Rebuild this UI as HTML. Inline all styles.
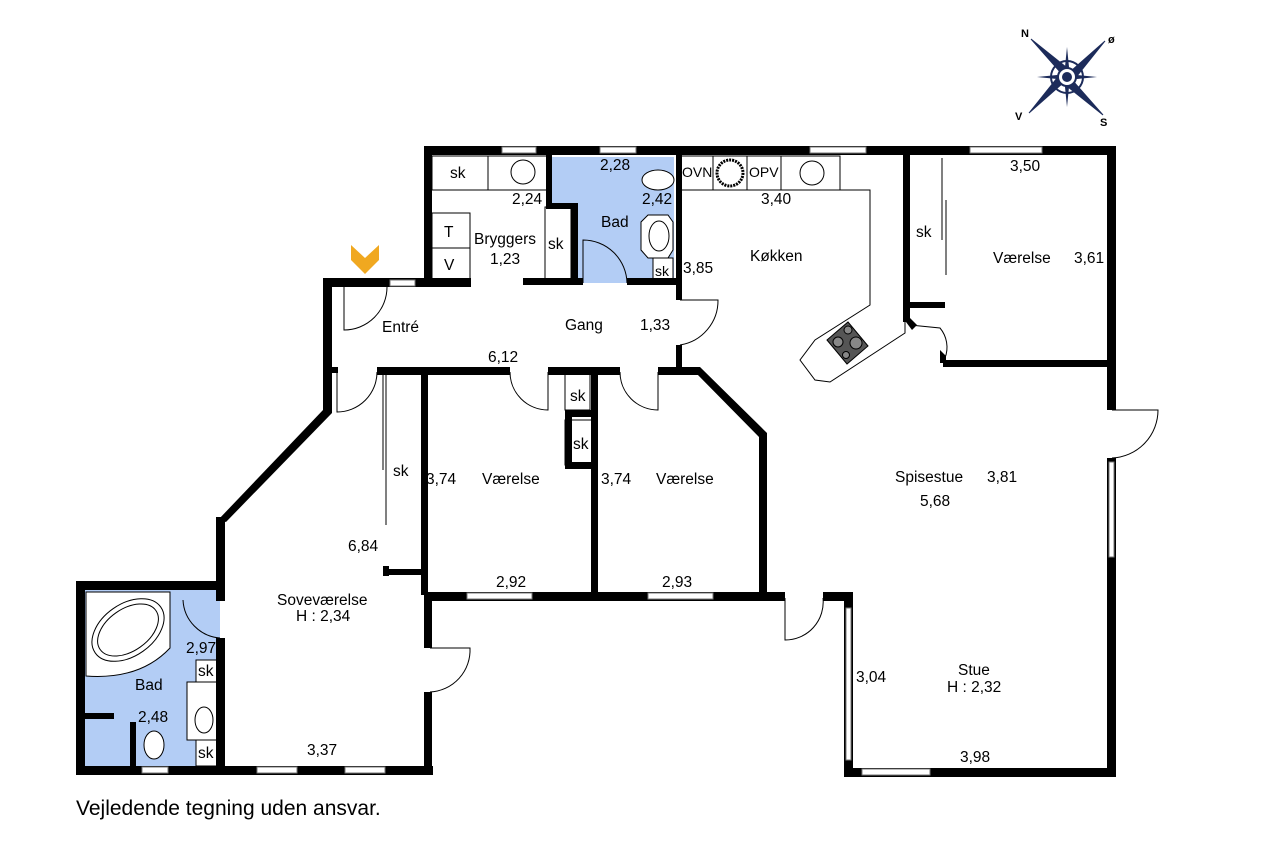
<!DOCTYPE html>
<html><head><meta charset="utf-8"><style>
html,body{margin:0;padding:0;background:#fff;}
svg{display:block}
text{font-family:"Liberation Sans",Arial,sans-serif;font-size:15.5px;fill:#000}
</style></head><body>
<svg width="1280" height="853" viewBox="0 0 1280 853" xmlns="http://www.w3.org/2000/svg">
<rect x="548" y="157" width="126" height="126" fill="#b3cdf5"/>
<rect x="84" y="590" width="136" height="176" fill="#b3cdf5"/>
<g fill="none" stroke="#000" stroke-width="1">
<rect x="432" y="156" width="115" height="34" fill="#fff"/>
<line x1="488" y1="156" x2="488" y2="190"/>
<rect x="432" y="213" width="38" height="70" fill="#fff"/>
<line x1="432" y1="248" x2="470" y2="248"/>
<rect x="545" y="207" width="26" height="76" fill="#fff"/>
<rect x="680" y="156" width="160" height="34" fill="#fff"/>
<line x1="713" y1="156" x2="713" y2="190"/><line x1="747" y1="156" x2="747" y2="190"/><line x1="781" y1="156" x2="781" y2="190"/>
<polyline points="840,190 870,190 870,305 815,340 800,360 815,380 830,382 905,333 905,315"/>
<circle cx="523" cy="172" r="12"/><circle cx="812" cy="173" r="12"/>
<rect x="653" y="258" width="20" height="25" fill="#fff"/>
<ellipse cx="658" cy="180" rx="16" ry="10" fill="#fff"/>
<polygon points="648,215 668,215 673,222 673,250 668,258 648,258 641,250 641,222" fill="#fff"/>
<ellipse cx="659" cy="236" rx="10" ry="15"/>
<path d="M344,287 V330 A43,43 0 0 0 387,287"/>
<path d="M337,372 V412 A40,40 0 0 0 377,372"/>
<path d="M583,283 V240 A44,44 0 0 1 627,283"/>
<path d="M510,372 A38,38 0 0 0 548,410 V372"/>
<path d="M620,372 A38,38 0 0 0 658,410 V372"/>
<path d="M680,300 H718 A45,45 0 0 1 680,345"/>
<path d="M910,325 L940,328 A30,30 0 0 1 945,358"/>
<path d="M1112,410 H1158 A48,48 0 0 1 1112,458"/>
<path d="M785,598 V640 A38,38 0 0 0 823,598"/>
<path d="M430,648 H470 A42,42 0 0 1 430,692"/>
<path d="M183,600 A40,40 0 0 0 220,638"/>
<line x1="383" y1="375" x2="383" y2="470"/><line x1="386" y1="375" x2="386" y2="525"/>
<line x1="942" y1="158" x2="942" y2="240"/><line x1="946" y1="200" x2="946" y2="275"/>
<rect x="565" y="372" width="25" height="38" fill="#fff"/>
<rect x="565" y="420" width="30" height="45" fill="#fff"/>
<path d="M86,592 H170 V648 Q140,680 86,676 Z" fill="#fff"/>
<ellipse cx="128" cy="630" rx="40" ry="26" transform="rotate(-35 128 630)"/>
<ellipse cx="128" cy="630" rx="34" ry="21" transform="rotate(-35 128 630)"/>
<rect x="196" y="660" width="24" height="22" fill="#fff"/><rect x="187" y="682" width="33" height="58" fill="#fff"/><rect x="196" y="740" width="24" height="26" fill="#fff"/>
<ellipse cx="204" cy="720" rx="9" ry="13"/>
<ellipse cx="154" cy="745" rx="10" ry="14" fill="#fff"/>
</g>
<polygon points="827,340 848,322 868,346 847,364" fill="#555" stroke="#000"/>
<circle cx="848" cy="330" r="4" fill="#888" stroke="#000"/><circle cx="856" cy="343" r="6" fill="#888" stroke="#000"/><circle cx="838" cy="342" r="5" fill="#888" stroke="#000"/><circle cx="846" cy="355" r="3.5" fill="#888" stroke="#000"/>
<circle cx="730" cy="173" r="13" fill="none" stroke="#000" stroke-width="3" stroke-dasharray="2 1"/>
<g fill="#000">
<rect x="424" y="146" width="692" height="9"/>
<rect x="1107" y="146" width="9" height="264"/>
<rect x="1107" y="458" width="9" height="318"/>
<rect x="844" y="768" width="272" height="9"/>
<rect x="844" y="592" width="9" height="185"/>
<rect x="823" y="592" width="30" height="9"/>
<rect x="424" y="592" width="361" height="9"/>
<rect x="424" y="146" width="8" height="140"/>
<rect x="323" y="278" width="148" height="9"/>
<rect x="523" y="278" width="60" height="7"/>
<rect x="627" y="278" width="53" height="7"/>
<rect x="546" y="203" width="32" height="6"/><rect x="571" y="203" width="7" height="80"/>
<rect x="546" y="150" width="6" height="58"/>
<rect x="676" y="150" width="6" height="150"/>
<rect x="676" y="345" width="6" height="28"/>
<rect x="323" y="278" width="9" height="135"/>
<polygon points="323,410 332,413 226,522 218,520"/>
<rect x="216" y="517" width="9" height="70"/>
<rect x="76" y="581" width="149" height="9"/>
<rect x="76" y="581" width="9" height="194"/>
<rect x="76" y="766" width="357" height="9"/>
<rect x="216" y="581" width="9" height="20"/><rect x="216" y="638" width="9" height="130"/>
<rect x="424" y="595" width="8" height="53"/><rect x="424" y="692" width="8" height="80"/>
<rect x="332" y="367" width="6" height="6"/>
<rect x="377" y="367" width="133" height="8"/>
<rect x="548" y="367" width="72" height="8"/>
<rect x="658" y="367" width="40" height="8"/>
<polygon points="694,367 700,367 767,433 767,595 759,595 759,437 694,371"/>
<rect x="421" y="370" width="7" height="225"/>
<rect x="591" y="370" width="7" height="225"/>
<rect x="565" y="410" width="30" height="7"/><rect x="565" y="410" width="7" height="58"/><rect x="565" y="462" width="30" height="7"/>
<rect x="383" y="569" width="40" height="6"/><rect x="383" y="566" width="6" height="10"/>
<rect x="903" y="150" width="7" height="172"/>
<rect x="903" y="302" width="42" height="6"/>
<polygon points="903,318 910,318 917,325 912,330"/>
<rect x="943" y="360" width="170" height="7"/>
<polygon points="940,350 946,356 946,363 940,363"/>
<rect x="84" y="713" width="30" height="6"/><rect x="130" y="722" width="6" height="48"/>
</g>
<g fill="#fff" stroke="#777" stroke-width="1">
<rect x="502" y="147" width="34" height="6"/><rect x="600" y="147" width="36" height="6"/>
<rect x="810" y="147" width="56" height="6"/><rect x="970" y="147" width="72" height="6"/>
<rect x="390" y="280" width="25" height="6"/>
<rect x="1109" y="462" width="5" height="95"/>
<rect x="846" y="608" width="5" height="152"/>
<rect x="862" y="769" width="68" height="6"/>
<rect x="467" y="593" width="65" height="6"/><rect x="648" y="593" width="65" height="6"/>
<rect x="142" y="767" width="26" height="6"/><rect x="257" y="767" width="40" height="6"/><rect x="345" y="767" width="40" height="6"/>
</g>
<polygon points="351,245 365,258 379,245 379,260 365,274 351,260" fill="#f0a820"/>
<g transform="translate(1067,77)">
<polygon points="-36,-38 -6,-4 -38,36 -4,6 36,38 6,4 38,-36 4,-6" fill="#1c2b5a" stroke="#1c2b5a" stroke-width="1"/>
<polygon points="0,-30 3,0 0,30 -3,0" fill="#1c2b5a"/><polygon points="-30,0 0,-3 30,0 0,3" fill="#1c2b5a"/>
<circle r="16" fill="none" stroke="#1c2b5a" stroke-width="2"/>
<circle r="9" fill="#fff" stroke="#1c2b5a" stroke-width="2"/><circle r="5" fill="#1c2b5a"/>
<text x="-46" y="-40" style="font-size:11px;font-weight:bold">N</text>
<text x="41" y="-34" style="font-size:11px;font-weight:bold">ø</text>
<text x="-52" y="43" style="font-size:11px;font-weight:bold">V</text>
<text x="33" y="49" style="font-size:11px;font-weight:bold">S</text>
</g>
<g>
<text x="450" y="178">sk</text><text x="512" y="204">2,24</text>
<text x="444" y="237">T</text><text x="444" y="270">V</text>
<text x="474" y="244">Bryggers</text><text x="490" y="264">1,23</text>
<text x="548" y="249">sk</text>
<text x="600" y="170">2,28</text><text x="601" y="227">Bad</text><text x="642" y="204">2,42</text>
<text x="655" y="276" style="font-size:14px">sk</text>
<text x="682" y="177" style="font-size:14px">OVN</text><text x="749" y="177" style="font-size:14px">OPV</text>
<text x="761" y="204">3,40</text><text x="683" y="273">3,85</text>
<text x="750" y="261">Køkken</text>
<text x="382" y="332">Entré</text><text x="565" y="330">Gang</text><text x="640" y="330">1,33</text>
<text x="488" y="362">6,12</text>
<text x="916" y="237">sk</text><text x="1010" y="171">3,50</text>
<text x="993" y="263">Værelse</text><text x="1074" y="263">3,61</text>
<text x="570" y="401">sk</text><text x="573" y="449">sk</text>
<text x="393" y="476">sk</text>
<text x="426" y="484">3,74</text><text x="482" y="484">Værelse</text>
<text x="601" y="484">3,74</text><text x="656" y="484">Værelse</text>
<text x="496" y="587">2,92</text><text x="662" y="587">2,93</text>
<text x="895" y="482">Spisestue</text><text x="987" y="482">3,81</text><text x="920" y="506">5,68</text>
<text x="348" y="551">6,84</text>
<text x="277" y="605">Soveværelse</text><text x="296" y="621">H : 2,34</text>
<text x="186" y="653">2,97</text><text x="198" y="676">sk</text>
<text x="135" y="690">Bad</text><text x="138" y="722">2,48</text><text x="198" y="758">sk</text>
<text x="307" y="755">3,37</text>
<text x="856" y="682">3,04</text>
<text x="958" y="675">Stue</text><text x="947" y="692">H : 2,32</text>
<text x="960" y="762">3,98</text>
<text x="76" y="815" style="font-size:21px">Vejledende tegning uden ansvar.</text>
</g>
</svg>
</body></html>
